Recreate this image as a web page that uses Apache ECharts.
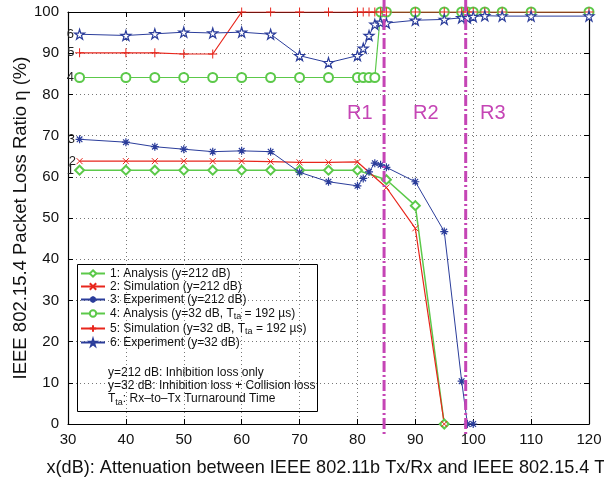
<!DOCTYPE html>
<html>
<head>
<meta charset="utf-8">
<script src="https://cdn.jsdelivr.net/npm/echarts@6/dist/echarts.min.js"></script>
<style>
	html, body { margin: 0; padding: 0; background: #fff; }
	#chart { width: 604px; height: 478px; }
</style>
</head>
<body>
<div id="chart"></div>
<script>
	// x (dB) and loss ratio (%) for each curve
	var xAnalysis212 = [32, 40, 45, 50, 55, 60, 65, 70, 75, 80, 85, 90, 95];
	var yAnalysis212 = [61.6, 61.6, 61.6, 61.6, 61.6, 61.6, 61.6, 61.6, 61.6, 61.6, 59.3, 53.0, 0];
	var xSim212 = [32, 40, 45, 50, 55, 60, 65, 70, 75, 80, 85, 90, 95];
	var ySim212 = [63.8, 63.8, 63.8, 63.8, 63.8, 63.8, 63.7, 63.5, 63.5, 63.6, 57.4, 47.5, 0];
	var xExp212 = [32, 40, 45, 50, 55, 60, 65, 70, 75, 80, 81, 82, 83, 84, 85, 90, 95, 98, 99, 100];
	var yExp212 = [69.1, 68.4, 67.3, 66.7, 66.1, 66.3, 66.1, 61.1, 58.8, 57.8, 59.6, 61.2, 63.3, 62.9, 62.3, 58.8, 46.7, 10.4, 0, 0];
	var xAnalysis32 = [32, 40, 45, 50, 55, 60, 65, 70, 75, 80, 81, 82, 83, 84, 85, 90, 95, 98, 99, 100, 102, 105, 110, 120];
	var yAnalysis32 = [84.1, 84.1, 84.1, 84.1, 84.1, 84.1, 84.1, 84.1, 84.1, 84.1, 84.1, 84.1, 84.1, 100, 100, 100, 100, 100, 100, 100, 100, 100, 100, 100];
	var xSim32 = [32, 40, 45, 50, 55, 60, 65, 70, 75, 80, 81, 82, 83, 84, 85, 90, 95, 98, 99, 100, 102, 105, 110, 120];
	var ySim32 = [90.1, 90.1, 90.1, 89.8, 89.8, 100, 100, 100, 100, 100, 100, 100, 100, 100, 100, 100, 100, 100, 100, 100, 100, 100, 100, 100];
	var xExp32 = [32, 40, 45, 50, 55, 60, 65, 70, 75, 80, 81, 82, 83, 84, 85, 90, 95, 98, 99, 100, 102, 105, 110, 120];
	var yExp32 = [94.6, 94.3, 94.7, 95.1, 94.9, 95.1, 94.6, 89.4, 87.7, 89.4, 91.2, 94.3, 97.0, 97.5, 97.3, 98.0, 98.2, 98.6, 98.6, 98.9, 99.1, 99.0, 99.0, 99.0];

	var seriesNames = [
		'1: Analysis (y=212 dB)',
		'2: Simulation (y=212 dB)',
		'3: Experiment (y=212 dB)',
		'4: Analysis (y=32 dB, T{sub|ta} = 192 µs)',
		'5: Simulation (y=32 dB, T{sub|ta} = 192 µs)',
		'6: Experiment (y=32 dB)'
	];
	var curveTags = ['1', '2', '3', '4', '5', '6'];
	var regionBounds = [84.6, 98.7];
	var regionNames = ['R1', 'R2', 'R3'];
	var regionLabelX = [80.4, 91.8, 103.4];
	var regionLabelY = 75.4;

	var green = '#5cc94a', red = '#e8261c', blue = '#2b3d9b', magenta = '#c545b5';
	var FONT = 'Liberation Sans';

	function pairs(xs, ys){
		var out = [];
		for(var i = 0; i < xs.length; i++){ out.push([xs[i], ys[i]]); }
		return out;
	}

	function withTag(data, tag){
		data[0] = {
			value: data[0],
			label: { show: true, formatter: tag, position: 'left', distance: 0, color: '#222', fontSize: 13, fontFamily: FONT }
		};
		return data;
	}

	var starPath = 'path://M50,0 L61,35 L98,35 L68,57 L79,91 L50,70 L21,91 L32,57 L2,35 L39,35 Z';
	var crossPath = 'path://M0,0 L10,10 M10,0 L0,10';
	var plusPath = 'path://M5,0 L5,10 M0,5 L10,5';
	var asteriskPath = 'path://M5,0 L5,10 M0,5 L10,5 M1.5,1.5 L8.5,8.5 M8.5,1.5 L1.5,8.5';

	var myEchart = echarts.init(document.getElementById('chart'));
	var option = {
		animation: false,
		textStyle: { fontFamily: FONT },
		grid: { left: 68, right: 15, top: 12, bottom: 54, outerBoundsMode: 'none', containLabel: false },
		legend: {
			left: 80,
			top: 267,
			orient: 'vertical',
			itemWidth: 24,
			itemHeight: 8,
			itemGap: 0,
			padding: 0,
			data: seriesNames,
			formatter: function(name){ return name; },
			textStyle: {
				fontSize: 12,
				lineHeight: 13,
				color: '#111',
				fontFamily: FONT,
				rich: {
					sub: { fontSize: 9, lineHeight: 10, padding: [6, 0, 0, 0], fontFamily: FONT, color: '#111' }
				}
			}
		},
		xAxis: [{
			type: 'value',
			min: 30, max: 120, interval: 10,
			name: 'x(dB): Attenuation between IEEE 802.11b Tx/Rx and IEEE 802.15.4 Tx',
			nameLocation: 'middle',
			nameGap: 35,
			nameMoveOverlap: false,
			nameTextStyle: { fontSize: 18.1, color: '#111', padding: [0, 0, 0, 4] },
			axisLine: { lineStyle: { color: '#000', width: 1.2 } },
			axisTick: { inside: true, length: 5, lineStyle: { color: '#000' } },
			axisLabel: { fontSize: 15, color: '#111', margin: 8 },
			splitLine: { show: true, lineStyle: { type: [1, 3], color: '#777' } }
		}, {
			type: 'value', position: 'top',
			min: 30, max: 120, interval: 10,
			axisLine: { show: true, onZero: false, lineStyle: { color: '#000', width: 1.2 } },
			axisTick: { inside: true, length: 5, lineStyle: { color: '#000' } },
			axisLabel: { show: false },
			splitLine: { show: false }
		}],
		yAxis: [{
			type: 'value',
			min: 0, max: 100, interval: 10,
			name: 'IEEE 802.15.4 Packet Loss Ratio η (%)',
			nameLocation: 'middle',
			nameGap: 38,
			nameMoveOverlap: false,
			nameTextStyle: { fontSize: 18.5, color: '#111' },
			axisLine: { show: true, lineStyle: { color: '#000', width: 1.2 } },
			axisTick: { show: true, inside: true, length: 5, lineStyle: { color: '#000' } },
			axisLabel: { fontSize: 15, color: '#111', margin: 9 },
			splitLine: { show: true, lineStyle: { type: [1, 3], color: '#777' } }
		}, {
			type: 'value', position: 'right',
			min: 0, max: 100, interval: 10,
			axisLine: { show: true, onZero: false, lineStyle: { color: '#000', width: 1.2 } },
			axisTick: { show: true, inside: true, length: 5, lineStyle: { color: '#000' } },
			axisLabel: { show: false },
			splitLine: { show: false }
		}],
		graphic: [{
			type: 'rect',
			left: 77, top: 264,
			shape: { width: 240, height: 147 },
			style: { fill: '#fff', stroke: '#000', lineWidth: 1 },
			z: 0
		}, {
			type: 'text',
			left: 108, top: 366,
			z: 10,
			style: {
				text: 'y=212 dB: Inhibition loss only\ny=32 dB: Inhibition loss + Collision loss\nT{sub|ta}: Rx–to–Tx Turnaround Time',
				fontSize: 12, lineHeight: 13, fill: '#111', fontFamily: FONT,
				rich: { sub: { fontSize: 9, padding: [9, 0, 0, 0], fontFamily: FONT, fill: '#111' } }
			}
		}],
		series: [{
			name: seriesNames[0], type: 'line',
			data: withTag(pairs(xAnalysis212, yAnalysis212), curveTags[0]),
			symbol: 'emptyDiamond', symbolSize: 9,
			itemStyle: { color: green },
			lineStyle: { color: green, width: 1.5 },
			z: 3,
			markPoint: {
				silent: true, symbol: 'circle', symbolSize: 0,
				label: { show: true, color: magenta, fontSize: 20, fontFamily: FONT, formatter: '{b}' },
				data: [
					{ name: regionNames[0], coord: [regionLabelX[0], regionLabelY] },
					{ name: regionNames[1], coord: [regionLabelX[1], regionLabelY] },
					{ name: regionNames[2], coord: [regionLabelX[2], regionLabelY] }
				]
			}
		}, {
			name: seriesNames[1], type: 'line',
			data: withTag(pairs(xSim212, ySim212), curveTags[1]),
			symbol: crossPath, symbolSize: 6,
			itemStyle: { color: red, borderColor: red, borderWidth: 1 },
			lineStyle: { color: red, width: 1.2 },
			z: 3
		}, {
			name: seriesNames[2], type: 'line',
			data: withTag(pairs(xExp212, yExp212), curveTags[2]),
			symbol: asteriskPath, symbolSize: 8,
			itemStyle: { color: blue, borderColor: blue, borderWidth: 1.2 },
			lineStyle: { color: blue, width: 1 },
			z: 4
		}, {
			name: seriesNames[3], type: 'line',
			data: withTag(pairs(xAnalysis32, yAnalysis32), curveTags[3]),
			symbol: 'emptyCircle', symbolSize: 9,
			itemStyle: { color: green },
			lineStyle: { color: green, width: 1.2 },
			z: 3
		}, {
			name: seriesNames[4], type: 'line',
			data: withTag(pairs(xSim32, ySim32), curveTags[4]),
			symbol: plusPath, symbolSize: 9,
			itemStyle: { color: red, borderColor: red, borderWidth: 1 },
			lineStyle: { color: red, width: 1.2 },
			z: 3
		}, {
			name: seriesNames[5], type: 'line',
			data: withTag(pairs(xExp32, yExp32), curveTags[5]),
			symbol: starPath, symbolSize: 10,
			itemStyle: { color: '#fff', borderColor: blue, borderWidth: 1.2 },
			lineStyle: { color: blue, width: 1 },
			z: 4
		}]
	};
	myEchart.setOption(option);

	// region boundaries: dash-dot lines that run a little past the plot box
	var topPx = myEchart.convertToPixel({ yAxisIndex: 0 }, 100) - 12;
	var bottomPx = myEchart.convertToPixel({ yAxisIndex: 0 }, 0) + 12;
	var boundLines = [];
	for(var i = 0; i < regionBounds.length; i++){
		var px = myEchart.convertToPixel({ xAxisIndex: 0 }, regionBounds[i]);
		boundLines.push({
			type: 'line',
			z: 50,
			silent: true,
			shape: { x1: px, y1: topPx, x2: px, y2: bottomPx },
			style: { stroke: magenta, lineWidth: 3, lineDash: [11, 3, 2, 3] }
		});
	}
	myEchart.setOption({ graphic: option.graphic.concat(boundLines) });
</script>
</body>
</html>
